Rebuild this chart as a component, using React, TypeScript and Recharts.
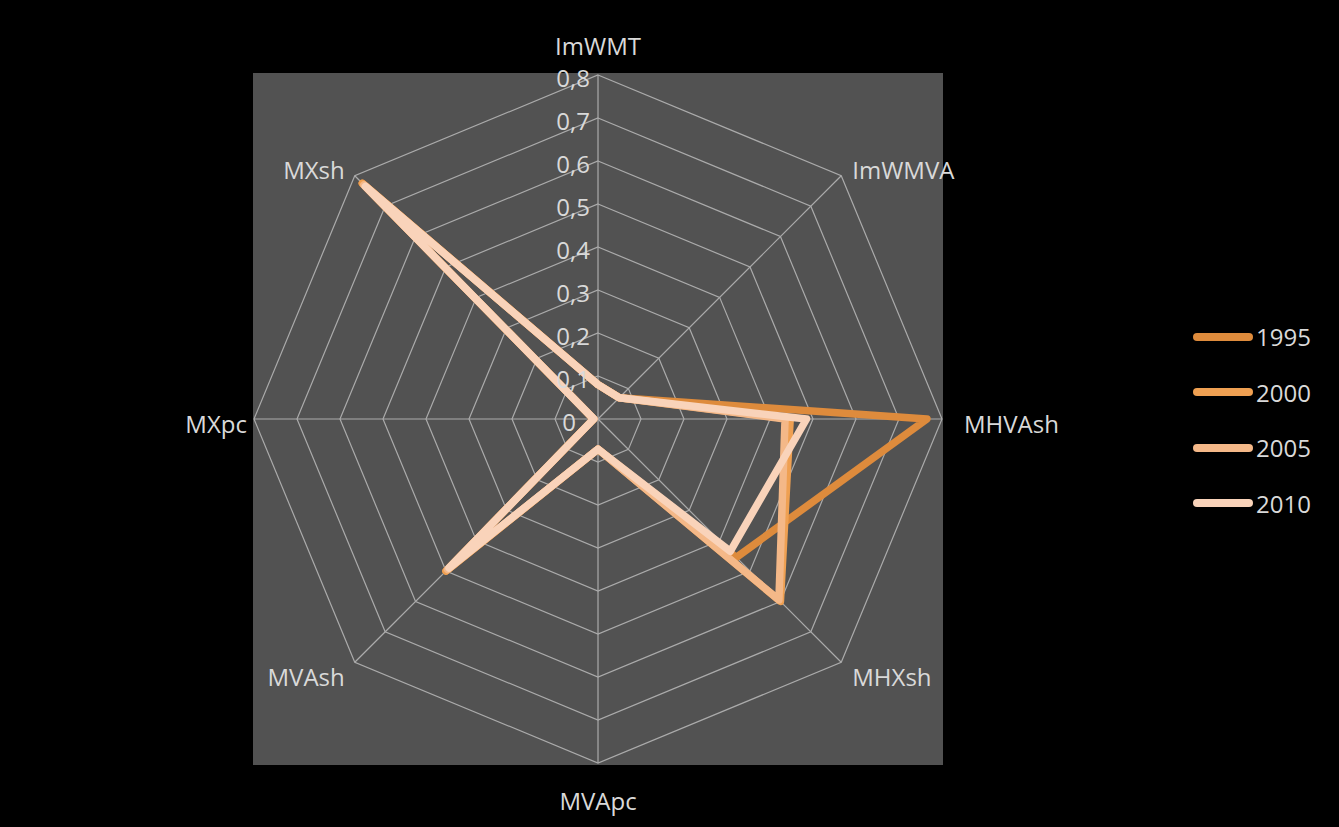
import React from "react";
import {
  RadarChart,
  Radar,
  PolarGrid,
  PolarAngleAxis,
  PolarRadiusAxis,
  Legend,
} from "recharts";

// axis order clockwise from top
const axes = ["ImWMT", "ImWMVA", "MHVAsh", "MHXsh", "MVApc", "MVAsh", "MXpc", "MXsh"];

const s1995 = [0.08, 0.07, 0.765, 0.455, 0.07, 0.5, 0.01, 0.775];
const s2000 = [0.08, 0.07, 0.447, 0.6, 0.07, 0.5, 0.01, 0.775];
const s2005 = [0.08, 0.07, 0.435, 0.595, 0.07, 0.495, 0.01, 0.77];
const s2010 = [0.08, 0.07, 0.485, 0.435, 0.07, 0.49, 0.01, 0.765];

const years = ["1995", "2000", "2005", "2010"];
const radiusTicks = [0, 0.1, 0.2, 0.3, 0.4, 0.5, 0.6, 0.7, 0.8];

const colors = ["#DE8B3C", "#EFA052", "#F4B888", "#F9D3BA"];

const data = axes.map((name, i) => ({
  name,
  y1995: s1995[i],
  y2000: s2000[i],
  y2005: s2005[i],
  y2010: s2010[i],
}));

const CX = 598;
const CY = 419;
const R = 344;
const FONT = "'Open Sans', sans-serif";
const TEXT = "#d9d9d9";

const fmt = (v: number) => (v === 0 ? "0" : v.toFixed(1).replace(".", ","));

const AngleTick = (props: any) => {
  const { x, y, payload } = props;
  const dx = x - CX;
  const dy = y - CY;
  const len = Math.hypot(dx, dy) || 1;
  const ux = dx / len;
  const uy = dy / len;
  const vx = CX + ux * R;
  const vy = CY + uy * R;
  let tx = vx;
  let ty = vy;
  let anchor = "middle";
  if (Math.abs(ux) < 0.2) {
    ty = uy < 0 ? vy - 30 : vy + 37;
  } else if (Math.abs(uy) < 0.2) {
    anchor = ux > 0 ? "start" : "end";
    tx = ux > 0 ? vx + 22 : vx - 7;
    ty = vy + 4;
  } else {
    anchor = ux > 0 ? "start" : "end";
    tx = ux > 0 ? vx + 11 : vx - 10;
    ty = uy < 0 ? vy - 6 : vy + 14;
  }
  return (
    <text
      x={tx}
      y={ty}
      textAnchor={anchor}
      dominantBaseline="central"
      fill={TEXT}
      fontSize={24}
      fontFamily={FONT}
    >
      {payload.value}
    </text>
  );
};

const RadiusTick = (props: any) => {
  const { x, y, payload } = props;
  const off = payload.value === 0 ? 22 : 8;
  return (
    <text
      x={x - off}
      y={y + 2}
      textAnchor="end"
      dominantBaseline="central"
      fill={TEXT}
      fontSize={24}
      fontFamily={FONT}
    >
      {fmt(payload.value)}
    </text>
  );
};

const LegendContent = (props: any) => {
  const { payload } = props;
  return (
    <div>
      {(payload || []).map((item: any) => (
        <div
          key={item.value}
          style={{ display: "flex", alignItems: "center", height: 55.5 }}
        >
          <div
            style={{
              width: 60,
              height: 8,
              borderRadius: 4,
              background: item.color,
              marginRight: 3,
            }}
          />
          <span style={{ color: TEXT, fontSize: 24, fontFamily: FONT }}>
            {item.value}
          </span>
        </div>
      ))}
    </div>
  );
};

const App = () => {
  const keys = ["y1995", "y2000", "y2005", "y2010"];
  return (
    <div
      style={{
        position: "absolute",
        left: 0,
        top: 0,
        width: 1339,
        height: 827,
        background: "#000",
        overflow: "hidden",
      }}
    >
      <div
        style={{
          position: "absolute",
          left: 253,
          top: 73,
          width: 690,
          height: 692,
          background: "#525252",
        }}
      />
      <div style={{ position: "absolute", left: 0, top: 0 }}>
        <RadarChart
          width={1339}
          height={827}
          data={data}
          cx={CX}
          cy={CY}
          outerRadius={R}
          margin={{ top: 0, right: 0, bottom: 0, left: 0 }}
        >
          <PolarGrid gridType="polygon" stroke="#ababab" strokeWidth={1.2} />
          <PolarAngleAxis dataKey="name" tick={<AngleTick />} tickLine={false} axisLine={false} />
          <PolarRadiusAxis
            angle={90}
            type="number"
            domain={[0, 0.8]}
            allowDataOverflow
            allowDecimals
            ticks={radiusTicks as any}
            tickCount={9}
            orientation="left"
            axisLine={false}
            tickLine={false}
            tick={<RadiusTick />}
          />
          {keys.map((k, i) => (
            <Radar
              key={k}
              name={years[i]}
              dataKey={k}
              stroke={colors[i]}
              fill={colors[i]}
              fillOpacity={0}
              strokeWidth={7.5}
              strokeLinejoin="round"
              dot={false}
              isAnimationActive={false}
            />
          ))}
          <Legend
            layout="vertical"
            align="center"
            verticalAlign="middle"
            content={<LegendContent />}
            wrapperStyle={{ left: 1193, top: 309, width: 130 }}
          />
        </RadarChart>
      </div>
    </div>
  );
};

export default App;
